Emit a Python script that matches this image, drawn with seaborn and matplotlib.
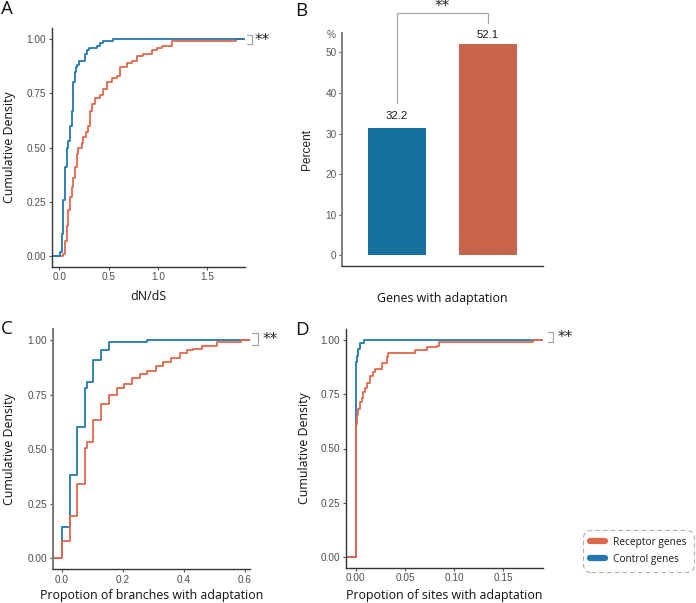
import numpy as np
import matplotlib
matplotlib.use("Agg")
import matplotlib.pyplot as plt
import seaborn as sns
from matplotlib.lines import Line2D
from matplotlib.ticker import FormatStrFormatter

sns.set_theme(style="white")
plt.rcParams['font.family'] = ['Liberation Sans', 'DejaVu Sans']

# ---------------- data ----------------
series = ["Receptor genes", "Control genes"]
line_colors = {"Receptor genes": "#E0694C", "Control genes": "#2277B0"}
bar_colors = {"Receptor genes": "#C8644C", "Control genes": "#15709C"}

# Panel A: dN/dS (values and number of genes at each value)
a_rec_vals = [0.041, 0.057, 0.074, 0.091, 0.108, 0.125, 0.142, 0.159, 0.176, 0.193,
              0.226, 0.243, 0.27, 0.294, 0.311, 0.328, 0.361, 0.412, 0.446, 0.48,
              0.53, 0.581, 0.615, 0.682, 0.733, 0.784, 0.851, 0.936, 0.986, 1.037,
              1.139, 1.79]
a_rec_counts = [1, 6, 7, 7, 6, 5, 4, 5, 6, 3, 2, 3, 2, 3, 7, 3, 3, 1, 3, 3,
                2, 1, 4, 2, 1, 2, 1, 2, 1, 1, 2, 1]
a_ctl_vals = [0.01, 0.024, 0.041, 0.057, 0.074, 0.091, 0.108, 0.125, 0.142, 0.159,
              0.17, 0.182, 0.196, 0.26, 0.284, 0.30, 0.378, 0.412, 0.446, 0.547]
a_ctl_counts = [2, 8, 16, 15, 9, 3, 7, 7, 13, 5, 2, 1, 2, 3, 2, 1, 1, 1, 1, 1]

# Panel B: percent of genes with adaptation
b_groups = ["Control genes", "Receptor genes"]
b_values = [31.3, 52.1]
b_labels = ["32.2", "52.1"]
b_label_values = [32.2, 52.1]

# Panel C: proportion of branches with adaptation
c_rec_vals = [0.0, 0.027, 0.052, 0.077, 0.082, 0.104, 0.128, 0.155, 0.18, 0.205,
              0.229, 0.256, 0.28, 0.308, 0.333, 0.357, 0.387, 0.409, 0.431, 0.458,
              0.509, 0.588]
c_rec_counts = [12, 17, 22, 25, 4, 15, 11, 6, 5, 3, 4, 3, 2, 3, 3, 3, 3, 2, 1, 2, 3, 1]
c_ctl_vals = [0.0, 0.027, 0.052, 0.077, 0.082, 0.104, 0.128, 0.155, 0.28]
c_ctl_counts = [16, 26, 24, 20, 3, 11, 5, 4, 1]

# Panel D: proportion of sites with adaptation
d_rec_vals = [0.0, 0.0003, 0.001, 0.0027, 0.0044, 0.0061, 0.0078, 0.0095, 0.0112,
              0.0146, 0.0179, 0.0196, 0.0264, 0.0315, 0.0332, 0.0603, 0.0721,
              0.0823, 0.085, 0.18]
d_rec_counts = [86, 6, 6, 4, 5, 3, 4, 3, 3, 5, 3, 2, 4, 4, 3, 2, 2, 1, 3, 1]
d_ctl_vals = [0.0, 0.001, 0.0027, 0.0044, 0.0085]
d_ctl_counts = [63, 2, 2, 2, 1]

# ---------------- figure ----------------
W, H = 696, 603
fig = plt.figure(figsize=(W / 100, H / 100), dpi=100)


def px_axes(l, t, r, b):
    return fig.add_axes([l / W, 1 - b / H, (r - l) / W, (b - t) / H])


axA = px_axes(51.7, 28.3, 245, 266.7)
axB = px_axes(342.3, 33.3, 542.7, 266)
axC = px_axes(52.7, 329.3, 250, 569.3)
axD = px_axes(345.7, 329.3, 542.7, 567.7)

TICK_COLOR = "#4D4D4D"
LABEL_FONT = ["Open Sans", "DejaVu Sans"]


def style_axes(ax, left_color="#333333", left_lw=1.0):
    sns.despine(ax=ax)
    ax.spines["left"].set_color(left_color)
    ax.spines["left"].set_linewidth(left_lw)
    ax.spines["bottom"].set_color("#333333")
    ax.spines["bottom"].set_linewidth(1.0)
    ax.tick_params(axis="both", which="major", length=2.5, width=0.8,
                   color="#555555", labelsize=7.2, labelcolor=TICK_COLOR, pad=1.5,
                   bottom=True, left=True)
    ax.grid(False)


def ecdf_panel(ax, data, order, xlim, xticks, xfmt, xlabel, ylabel_x, xlabel_y):
    for name in order:
        vals, counts = data[name]
        sns.ecdfplot(x=vals, weights=counts, ax=ax, color=line_colors[name],
                     linewidth=1.3)
    ax.set_xlim(*xlim)
    ax.set_ylim(-0.05, 1.05)
    # extend each step curve to the panel edges (ggplot pad)
    for ln in ax.lines:
        xd = np.asarray(ln.get_xdata(), dtype=float)
        yd = np.asarray(ln.get_ydata(), dtype=float)
        xd = np.where(np.isfinite(xd), xd, xlim[0])
        ln.set_data(np.r_[xd, xlim[1]], np.r_[yd, yd[-1]])
    ax.set_xticks(xticks)
    ax.xaxis.set_major_formatter(FormatStrFormatter(xfmt))
    ax.set_yticks([0, 0.25, 0.5, 0.75, 1.0])
    ax.yaxis.set_major_formatter(FormatStrFormatter("%.2f"))
    ax.set_xlabel(xlabel, family=LABEL_FONT, fontsize=8.9, color="#111111")
    ax.set_ylabel("Cumulative Density", family=LABEL_FONT, fontsize=8.9,
                  color="#111111")
    ax.yaxis.set_label_coords(ylabel_x, 0.5)
    ax.xaxis.set_label_coords(0.5, xlabel_y)


def sig_bracket(ax, x0, x1, y_top, y_bot, star_x, star_y):
    ax.plot([x0, x1, x1, x0], [y_top, y_top, y_bot, y_bot], transform=ax.transAxes,
            color="#A6A6A6", lw=0.9, clip_on=False)
    ax.text(star_x, star_y, "**", transform=ax.transAxes, ha="center", va="center",
            fontsize=11, color="#222222", family=["DejaVu Sans"])


# Panel A
style_axes(axA)
ecdf_panel(axA, {"Receptor genes": (a_rec_vals, a_rec_counts),
                 "Control genes": (a_ctl_vals, a_ctl_counts)},
           ["Receptor genes", "Control genes"], (-0.078, 1.88),
           [0, 0.5, 1.0, 1.5], "%.1f", "dN/dS", -0.185, -0.098)
sig_bracket(axA, 1.009, 1.035, 0.972, 0.934, 1.09, 0.95)

# Panel C
style_axes(axC, left_color="#777777", left_lw=1.4)
ecdf_panel(axC, {"Receptor genes": (c_rec_vals, c_rec_counts),
                 "Control genes": (c_ctl_vals, c_ctl_counts)},
           ["Control genes", "Receptor genes"], (-0.029, 0.616),
           [0, 0.2, 0.4, 0.6], "%.1f", "Propotion of branches with adaptation",
           -0.186, -0.082)
sig_bracket(axC, 1.008, 1.042, 0.983, 0.935, 1.104, 0.957)

# Panel D
style_axes(axD)
ecdf_panel(axD, {"Receptor genes": (d_rec_vals, d_rec_counts),
                 "Control genes": (d_ctl_vals, d_ctl_counts)},
           ["Control genes", "Receptor genes"], (-0.0102, 0.19),
           [0, 0.05, 0.10, 0.15], "%.2f", "Propotion of sites with adaptation",
           -0.176, -0.089)
sig_bracket(axD, 1.028, 1.053, 0.987, 0.945, 1.116, 0.965)

# Panel B
style_axes(axB, left_color="#808080", left_lw=1.4)
sns.barplot(x=b_groups, y=b_values, hue=b_groups,
            palette=[bar_colors[g] for g in b_groups], width=0.64,
            saturation=1, legend=False, ax=axB, edgecolor="none")
axB.set_xlim(-0.6, 1.6)
axB.set_ylim(-2.6, 54.7)
axB.set_yticks([0, 10, 20, 30, 40, 50])
axB.set_xticks([])
axB.tick_params(axis="y", labelcolor="#595959", labelsize=7.2)
for i, (lab, v) in enumerate(zip(b_labels, b_label_values)):
    axB.annotate(lab, (i, v), xytext=(0, 6.3), textcoords="offset points",
                 ha="center", va="center", fontsize=8.2, color="#1A1A1A")
axB.set_ylabel("Percent", fontsize=8.6, color="#222222")
axB.yaxis.set_label_coords(-0.146, 0.5)
axB.set_xlabel("Genes with adaptation", family=LABEL_FONT, fontsize=8.9,
               color="#111111")
axB.xaxis.set_label_coords(0.5, -0.11)
axB.text(-0.056, 0.993, "%", transform=axB.transAxes, ha="center", va="center",
         fontsize=7.2, color="#595959")
top_y = max(b_label_values) + 7.6
axB.plot([0, 0, 1, 1],
         [b_label_values[0] + 5.3, top_y, top_y, b_label_values[1] + 5.1],
         color="#A6A6A6", lw=0.9, clip_on=False)
axB.text(0.5, top_y + 1.6, "**", ha="center", va="center", fontsize=11,
         color="#222222", family=["DejaVu Sans"])

# Panel letters
for lab, x, y in [("A", 7, 9), ("B", 301.5, 10.5), ("C", 7, 329), ("D", 302, 330)]:
    fig.text(x / W, 1 - y / H, lab, ha="center", va="center", fontsize=13.5,
             family=LABEL_FONT, color="#111111")

# Legend
handles = [Line2D([0], [0], color=line_colors[s], lw=4.5, solid_capstyle="round")
           for s in series]
leg = fig.legend(handles, series, loc="upper left",
                 bbox_to_anchor=(583 / W, 1 - 529.5 / H),
                 prop={"family": LABEL_FONT, "size": 7.3}, frameon=True,
                 handlelength=1.5, handletextpad=0.75, labelspacing=0.6,
                 borderpad=0.7, borderaxespad=0)
fr = leg.get_frame()
fr.set_edgecolor("#9A9A9A")
fr.set_linewidth(0.8)
fr.set_linestyle((0, (4, 3)))
fr.set_boxstyle("round,pad=0.0,rounding_size=0.8")
for t in leg.get_texts():
    t.set_color("#1A1A1A")

fig.savefig("out.png", dpi=100, facecolor="white")
